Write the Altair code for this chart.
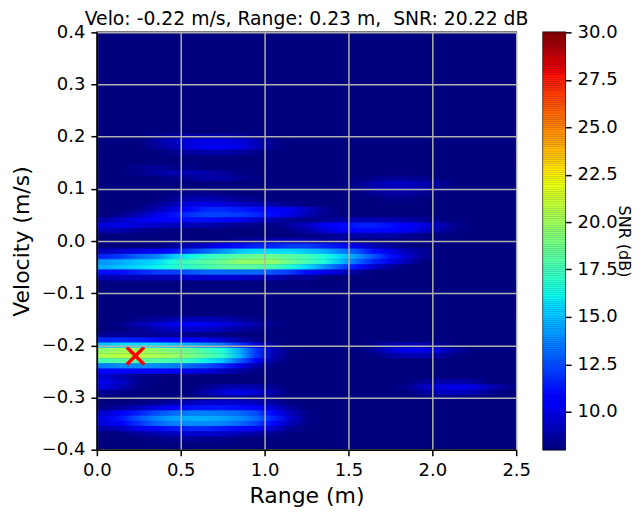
import altair as alt
import numpy as np

TITLE = "Velo: -0.22 m/s, Range: 0.23 m, \u00a0SNR: 20.22 dB"
X_TICKS = [0.0, 0.5, 1.0, 1.5, 2.0, 2.5]
Y_TICKS = [-0.4, -0.3, -0.2, -0.1, 0.0, 0.1, 0.2, 0.3, 0.4]
CB_TICKS = [10.0, 12.5, 15.0, 17.5, 20.0, 22.5, 25.0, 27.5, 30.0]
PEAK_RANGE = [0.23]
PEAK_VELO = [-0.22]

JET_DOMAIN = [8.0, 10.42, 10.75, 15.48, 15.7, 16.25, 22.08, 22.52, 27.58, 28.02, 30.0]
JET_RANGE = ["#00007f", "#0000ff", "#0000ff", "#00dbff", "#00e5f7", "#15ffe2",
             "#efff08", "#ffee00", "#ff1700", "#e80000", "#7f0000"]

BASE = 8.0
ROW_STEP = 0.01
N_COLS = 25

# velocity -> SNR per range column (0.05, 0.15, ... m); omitted cells are at BASE
ROWS = {
    0.20: [8, 8, 8, 8.3, 8.5, 8.8, 8.8, 8.8, 8.5, 8.2],
    0.19: [8, 8, 8, 8.6, 9.2, 9.8, 10, 10, 9.8, 9.1, 8.3],
    0.18: [8, 8, 8, 8.5, 9, 9.8, 10.2, 10.2, 10, 9.2, 8.3],
    0.17: [8, 8, 8, 8, 8.3, 8.6, 8.8, 8.8, 8.6, 8.2],
    0.14: [8, 8, 8.3, 8.4, 8.3, 8.2],
    0.13: [8, 8, 8.3, 8.6, 8.9, 9, 8.8, 8.5, 8.2],
    0.12: [8, 8, 8, 8, 8.2, 8.5, 8.7, 8.8, 8.4, 8.1, 8, 8, 8, 8, 8, 8, 8.2, 8.4, 8.4, 8.2],
    0.11: [8, 8, 8, 8, 8, 8, 8, 8, 8, 8, 8, 8, 8, 8, 8, 8.3, 8.9, 9.2, 9.2, 8.9, 8.4],
    0.10: [8, 8, 8, 8, 8, 8, 8, 8, 8, 8, 8, 8, 8, 8, 8, 8.2, 8.8, 9.1, 9.1, 8.8, 8.3],
    0.09: [8, 8, 8, 8, 8.1, 8.3, 8.3, 8.1, 8, 8, 8, 8, 8, 8, 8, 8, 8.4, 8.6, 8.6, 8.3],
    0.08: [8, 8, 8, 8, 8.4, 8.9, 9, 8.8, 8.4, 8.2, 8, 8, 8, 8, 8, 8, 8, 8.2, 8.2],
    0.07: [8, 8, 8, 8.4, 9, 9.8, 10, 9.8, 9.4, 9.1, 8.7, 8.4, 8.1],
    0.06: [8, 8, 8.3, 8.9, 9.8, 10.8, 11.6, 11.6, 11.3, 11, 10.7, 10.2, 9.3, 8.5],
    0.05: [8, 8.4, 9, 10, 11, 11.8, 12.2, 12.2, 12, 11.6, 10.9, 10, 9, 8.3],
    0.04: [8.8, 9.4, 10, 10.4, 10.8, 11, 11, 10.8, 10.2, 9.5, 8.9, 8.4, 8.2, 8.3, 8.7, 9, 9, 8.9, 8.7, 8.4, 8.1],
    0.03: [9.8, 10, 9.7, 9.4, 9.2, 9, 8.9, 8.6, 8.4, 8.2, 8.1, 8.6, 9.2, 10.2, 10.8, 11.3, 11.4, 11, 10.6, 9.8, 9, 8.3],
    0.02: [9, 8.8, 8.4, 8.2, 8.1, 8, 8, 8, 8, 8, 8, 8.2, 8.7, 9.5, 10.3, 10.8, 10.9, 10.6, 10.2, 9.4, 8.7, 8.1],
    0.01: [8, 8, 8, 8, 8, 8, 8, 8, 8, 8, 8, 8, 8.1, 8.3, 8.6, 8.8, 8.8, 8.7, 8.4, 8.1],
    0.00: [8, 8, 8, 8, 8, 8, 8, 8, 8.5, 8.5, 9, 9, 9, 8.5, 8.5],
    -0.01: [8, 8, 8, 8, 8.5, 9, 9.5, 10.5, 11, 11.5, 11.5, 12, 12, 11.5, 11, 10, 9, 8.5],
    -0.02: [9, 9.5, 10, 10.5, 11, 12, 13, 14, 15, 15.5, 15.5, 15.5, 15, 14.5, 13.5, 12.5, 11, 10, 9, 8.5],
    -0.03: [11.5, 12, 13, 13.5, 15, 16, 17, 17.5, 18, 18.5, 18.5, 18, 17.5, 16.5, 15.5, 14, 12.5, 11, 9.5, 8.5],
    -0.04: [14, 14.5, 15, 15.5, 16.5, 17.5, 18, 18.5, 19.5, 19.5, 19.5, 18.5, 17.5, 16.5, 15, 13, 11.5, 10, 9],
    -0.05: [14.5, 15, 15.5, 16, 16.5, 17, 17.5, 18, 18, 18, 17.5, 16.5, 15.5, 14, 12.5, 11, 9.5, 8.5],
    -0.06: [11, 11, 11.5, 12, 12, 12.5, 13, 13, 13, 13, 12.5, 12, 11, 10, 9.5, 8.5],
    -0.07: [9, 9, 9, 9, 9, 9.5, 9.5, 9.5, 9.5, 9, 9, 8.5, 8.5],
    -0.15: [8, 8, 8.2, 8.5, 8.8, 9, 9, 8.8, 8.5, 8.2],
    -0.16: [8, 8.3, 8.9, 9.5, 10, 10.3, 10.2, 9.8, 9.3, 8.8, 8.3],
    -0.17: [8, 8, 8.4, 8.8, 9.2, 9.4, 9.3, 9, 8.6, 8.3],
    -0.18: [8.5, 8.5, 8.5, 8.5, 8.5, 8.3, 8.2],
    -0.19: [11.5, 11.5, 11.3, 11, 10.8, 10.3, 10, 9.5, 8.8, 8.2],
    -0.20: [15, 15.5, 15.5, 15.5, 15, 14.5, 14, 13.3, 11.8, 9.8, 8.4, 8, 8, 8, 8, 8, 8.3, 9, 9.2, 9, 8.4],
    -0.21: [19.5, 20, 20, 19.5, 19, 18.5, 17.5, 16.5, 14.5, 11.8, 9.2, 8.1, 8, 8, 8, 8, 8.5, 9.5, 10, 10, 9.5, 8.6],
    -0.22: [20.3, 20.6, 20.5, 20.2, 19.8, 19, 18, 17, 14.8, 11.8, 9, 8.1, 8, 8, 8, 8, 8, 8.6, 9, 9, 8.6],
    -0.23: [17.5, 18, 18, 17.8, 17.5, 17, 16, 15, 12.8, 10.4, 8.6],
    -0.24: [13.5, 13.8, 13.8, 13.8, 13.5, 13, 12.5, 11.6, 10, 8.8, 8.1],
    -0.25: [10.5, 10.5, 10.5, 10.5, 10.3, 10, 9.8, 9.2, 8.6, 8.1],
    -0.26: [9.5, 8.9, 8.3, 8.1],
    -0.27: [10, 9.3, 8.3, 8, 8, 8, 8, 8, 8, 8, 8, 8, 8, 8, 8, 8, 8, 8, 8, 8.4, 8.8, 8.8, 8.5],
    -0.28: [9.8, 9, 8.2, 8, 8, 8, 8.3, 8.8, 9, 8.8, 8.3, 8, 8, 8, 8, 8, 8, 8, 8.3, 9.2, 9.8, 10, 9.8, 9, 8.3],
    -0.29: [8.5, 8.2, 8, 8, 8, 8, 8.8, 9.6, 10, 9.6, 8.8, 8, 8, 8, 8, 8, 8, 8, 8, 8.6, 9.2, 9.3, 9, 8.4],
    -0.30: [8, 8, 8, 8, 8, 8, 8.2, 8.6, 8.8, 8.6, 8.3, 8, 8, 8, 8, 8, 8, 8, 8, 8, 8.2, 8.2],
    -0.31: [8, 8, 8.1, 8.3, 8.7, 9.1, 9.4, 9.5, 9.4, 9.1, 8.6, 8.1],
    -0.32: [8.2, 8.6, 9.1, 9.8, 10.4, 11, 11.2, 11.2, 11, 10.6, 9.6, 8.6],
    -0.33: [9.5, 10.4, 11.4, 12.3, 13, 13.4, 13.5, 13.3, 13, 12.3, 10.8, 9.2, 8.2],
    -0.34: [10, 11.2, 12.6, 13.6, 14.2, 14.5, 14.5, 14.3, 13.8, 13, 11.5, 9.5, 8.3],
    -0.35: [9.8, 10.6, 11.8, 12.9, 13.5, 13.8, 13.8, 13.6, 13, 12.2, 10.8, 9.1, 8.2],
    -0.36: [8.8, 9.2, 10, 10.7, 11.2, 11.5, 11.5, 11.2, 10.8, 10.2, 9.4, 8.5],
    -0.37: [8, 8.1, 8.5, 8.9, 9.2, 9.5, 9.5, 9.3, 9, 8.7, 8.3],
    -0.38: [8, 8, 8, 8.1, 8.3, 8.4, 8.3, 8.2, 8.1],
}


def jet_hex(value):
    rgb = [int(JET_RANGE[k][j:j + 2], 16) for k in range(len(JET_RANGE)) for j in (1, 3, 5)]
    rgb = np.array(rgb).reshape(-1, 3)
    out = [int(round(float(np.interp(value, JET_DOMAIN, rgb[:, c])))) for c in range(3)]
    return "#%02x%02x%02x" % tuple(out)


# Each velocity row is one rect, shaded smoothly between its range columns
rows = []
for v, row in ROWS.items():
    full = row + [BASE] * (N_COLS - len(row))
    stops = [{"offset": (i + 0.5) / N_COLS, "color": jet_hex(full[i])} for i in range(N_COLS)]
    rows.append({"x": 0.0, "x2": 2.5, "y": round(v - ROW_STEP / 2, 4), "y2": round(v + ROW_STEP / 2, 4),
                 "shade": {"gradient": "linear", "x1": 0, "y1": 0, "x2": 1, "y2": 0, "stops": stops}})

color_scale = alt.Scale(domain=JET_DOMAIN, range=JET_RANGE, interpolate="rgb")
FONT = "DejaVu Sans"
MINUS = "replace(format(datum.value, '.1f'), '-', '\u2212')"
GRID = "#b0b0b0"

x_axis = alt.Axis(values=X_TICKS, format=".1f", title="Range (m)", grid=True, gridColor=GRID,
                  gridWidth=1.5, zindex=1, tickColor="black", tickWidth=1.5, tickSize=6,
                  domainColor="black", domainWidth=1.5, labelFont=FONT, labelFontSize=18,
                  labelColor="black", labelFlush=False, titleFont=FONT, titleFontSize=22,
                  titleFontWeight="normal", titleColor="black", labelPadding=6, titlePadding=6)
y_axis = alt.Axis(values=Y_TICKS, labelExpr=MINUS, title="Velocity (m/s)", grid=True, gridColor=GRID,
                  gridWidth=1.5, zindex=1, tickColor="black", tickWidth=1.5, tickSize=6,
                  domainColor="black", domainWidth=1.5, labelFont=FONT, labelFontSize=18,
                  labelColor="black", labelFlush=False, titleFont=FONT, titleFontSize=22,
                  titleFontWeight="normal", titleColor="black", labelPadding=6, titlePadding=8)

x_scale = alt.Scale(domain=[0, 2.5], nice=False, zero=False)
y_scale = alt.Scale(domain=[-0.4, 0.4], nice=False, zero=False)

heat = alt.Chart(alt.Data(values=rows)).mark_rect(strokeWidth=0.4).encode(
    x=alt.X("x:Q", scale=x_scale, axis=x_axis),
    x2="x2:Q",
    y=alt.Y("y:Q", scale=y_scale, axis=y_axis),
    y2="y2:Q",
    fill=alt.Fill("shade:N", scale=None, legend=None),
    stroke=alt.Stroke("shade:N", scale=None, legend=None),
)
marker = alt.Chart(alt.Data(values=[{"x": a, "y": b} for a, b in zip(PEAK_RANGE, PEAK_VELO)])).mark_point(
    shape="M-1,-1L1,1M-1,1L1,-1", size=300, stroke="#ff0000", strokeWidth=3.5, opacity=1, filled=False
).encode(x=alt.X("x:Q", scale=x_scale), y=alt.Y("y:Q", scale=y_scale))

main = alt.layer(heat, marker).properties(
    width=420, height=418,
    title=alt.TitleParams(TITLE, font=FONT, fontSize=18.8, fontWeight="normal", color="black", offset=-5),
)

levels = [round(float(l), 3) for l in np.arange(8.0, 30.0, 0.1)]
bar = alt.Chart(alt.Data(values=[{"a": l, "b": round(l + 0.1, 3)} for l in levels])).mark_rect(strokeWidth=0.3).encode(
    y=alt.Y("a:Q", scale=alt.Scale(domain=[8, 30], nice=False, zero=False),
            axis=alt.Axis(values=CB_TICKS, format=".1f", orient="right", title="SNR (dB)", grid=False,
                          tickColor="black", tickWidth=1.5, tickSize=6, domain=False, labelFlush=False,
                          labelFont=FONT, labelFontSize=18, labelColor="black", titleFont=FONT,
                          titleFontSize=16, titleFontWeight="normal", titleColor="black",
                          labelPadding=6, titlePadding=-2)),
    y2="b:Q",
    color=alt.Color("a:Q", scale=color_scale, legend=None),
    stroke=alt.Color("a:Q", scale=color_scale, legend=None),
).properties(width=22, height=418)

chart = alt.hconcat(main, bar, spacing=27, bounds="flush").resolve_scale(color="independent").configure_view(
    fill="#00007f", stroke="black", strokeWidth=1.5
).properties(padding={"left": 1, "top": 0, "right": 2, "bottom": 0}, background="white")

chart.save("out.html", embed_options={"renderer": "svg", "actions": False})
